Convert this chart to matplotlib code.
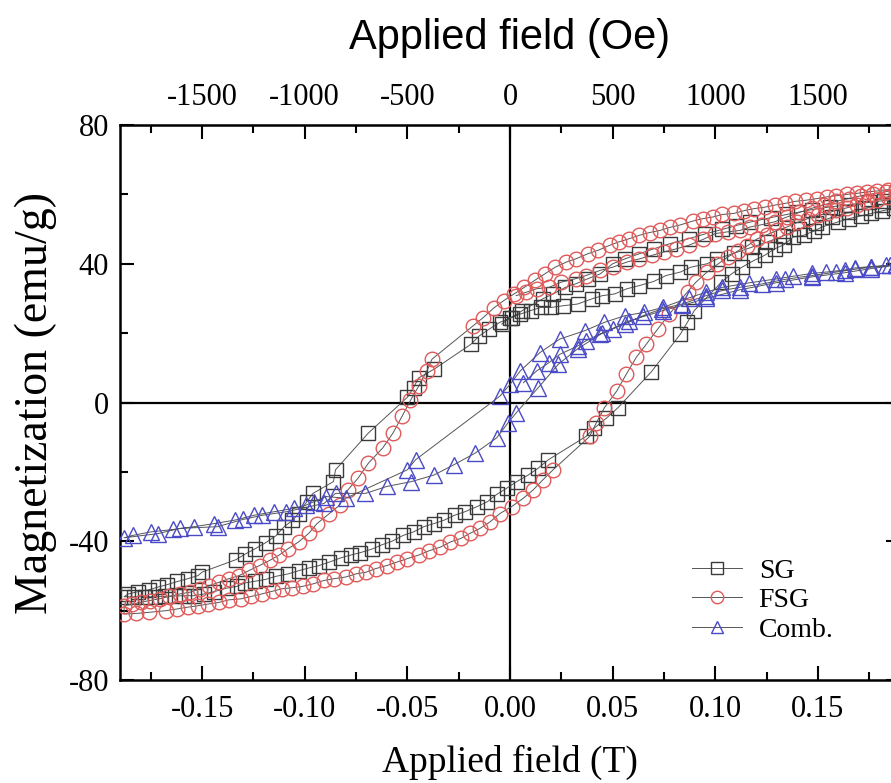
import matplotlib
matplotlib.use("Agg")
import matplotlib.pyplot as plt
from matplotlib.ticker import MultipleLocator, FixedLocator
import numpy as np

plt.rcParams["axes.unicode_minus"] = False

# ---------------- data: field H (T) and magnetization M (emu/g) ----------------
# SG: initial curve from remanence, descending branch, ascending branch
sg_init_h = [-0.004, 0.000, 0.005, 0.010, 0.015, 0.020, 0.026, 0.033, 0.040, 0.045, 0.051, 0.057,
             0.063, 0.070, 0.076, 0.083, 0.088, 0.096, 0.101, 0.109, 0.118, 0.125, 0.133, 0.141,
             0.149, 0.157, 0.165, 0.173, 0.181, 0.188]
sg_init_m = [22.6, 24.5, 25.5, 26.5, 27.4, 27.4, 27.9, 28.4, 29.9, 30.8, 31.3, 32.8,
             33.7, 34.9, 36.6, 37.6, 39.0, 40.0, 41.4, 43.0, 44.8, 46.2, 48.0, 50.0,
             51.8, 53.4, 54.8, 56.0, 57.0, 57.8]
sg_desc_h = [0.188, 0.182, 0.175, 0.165, 0.156, 0.147, 0.140, 0.135, 0.127, 0.117, 0.110, 0.1035,
             0.095, 0.087, 0.078, 0.070, 0.063, 0.056, 0.050, 0.044, 0.038, 0.032, 0.027, 0.021,
             0.016, 0.006, 0.001, -0.005, -0.010, -0.015, -0.019, -0.037, -0.0445, -0.047, -0.050,
             -0.069, -0.085, -0.086, -0.096, -0.099, -0.103, -0.106, -0.110, -0.114, -0.119, -0.124,
             -0.129, -0.1335, -0.150, -0.152, -0.157, -0.162, -0.167, -0.1715, -0.176, -0.181, -0.186]
sg_desc_m = [58.6, 58.2, 57.7, 57.0, 56.4, 55.6, 54.8, 54.2, 53.3, 52.0, 51.0, 49.9,
             48.6, 47.2, 45.8, 44.3, 42.9, 41.4, 40.0, 37.1, 35.7, 34.2, 33.2, 31.3,
             29.9, 26.5, 24.5, 23.1, 21.2, 19.2, 16.8, 9.6, 7.1, 4.3, 1.5,
             -8.8, -19.4, -22.8, -26.2, -28.6, -32.0, -34.0, -35.8, -38.4, -40.4, -42.1,
             -43.7, -45.3, -48.9, -49.9, -50.8, -51.6, -52.5, -53.2, -54.0, -54.5, -55.2]
sg_asc_h = [-0.188, -0.183, -0.178, -0.173, -0.168, -0.163, -0.159, -0.154, -0.149, -0.144, -0.138,
            -0.133, -0.129, -0.124, -0.119, -0.114, -0.108, -0.103, -0.098, -0.093, -0.088, -0.0825,
            -0.0777, -0.073, -0.067, -0.0623, -0.0575, -0.052, -0.047, -0.042, -0.037, -0.032, -0.027,
            -0.022, -0.016, -0.011, -0.0065, -0.0016, 0.0033, 0.0089, 0.0138, 0.0187, 0.037, 0.041,
            0.047, 0.0526, 0.0688, 0.083, 0.0864, 0.0898, 0.103, 0.108, 0.113, 0.119, 0.124, 0.129,
            0.1335, 0.138, 0.143, 0.148, 0.152, 0.160, 0.165, 0.171, 0.176, 0.181, 0.187]
sg_asc_m = [-56.0, -56.0, -56.0, -56.0, -55.9, -55.8, -55.7, -55.7, -55.2, -54.5, -53.5,
            -53.0, -52.0, -51.5, -51.0, -50.1, -49.4, -48.5, -47.7, -47.0, -46.0, -44.8,
            -44.0, -43.3, -42.2, -41.0, -40.0, -38.3, -37.3, -35.8, -34.9, -33.9, -32.5,
            -31.5, -30.0, -28.6, -26.5, -24.7, -22.8, -20.9, -18.9, -16.5, -9.8, -7.4,
            -4.5, -1.5, 8.8, 19.7, 23.1, 26.5, 34.7, 37.1, 39.0, 41.0, 42.4, 44.3,
            45.5, 47.7, 48.2, 49.4, 50.6, 52.1, 53.0, 53.8, 54.5, 55.2, 56.0]

# FSG
fsg_init_h = [0.003, 0.008, 0.013, 0.019, 0.025, 0.032, 0.037, 0.044, 0.050, 0.057, 0.063, 0.069,
              0.075, 0.081, 0.087, 0.094, 0.100, 0.106, 0.112, 0.117, 0.123, 0.129, 0.135, 0.141,
              0.147, 0.153, 0.159, 0.165, 0.171, 0.177, 0.183, 0.188]
fsg_init_m = [30.8, 31.8, 32.8, 33.2, 34.7, 35.7, 36.6, 38.1, 39.0, 40.5, 41.4, 42.4,
              43.4, 44.3, 45.3, 47.0, 48.7, 49.2, 49.6, 50.6, 51.3, 52.1, 53.5, 54.8,
              56.0, 57.0, 58.0, 58.8, 59.6, 60.2, 60.8, 61.3]
fsg_desc_h = [0.188, 0.184, 0.179, 0.174, 0.169, 0.164, 0.159, 0.1545, 0.1497, 0.144, 0.139, 0.134,
              0.129, 0.124, 0.119, 0.114, 0.109, 0.1035, 0.099, 0.094, 0.089, 0.083, 0.078, 0.073,
              0.068, 0.063, 0.058, 0.053, 0.0485, 0.043, 0.038, 0.032, 0.0275, 0.022, 0.017, 0.012,
              0.007, 0.002, -0.003, -0.008, -0.013, -0.018, -0.038, -0.0405, -0.0445, -0.0485,
              -0.0526, -0.057, -0.062, -0.069, -0.074, -0.079, -0.083, -0.088, -0.094, -0.098,
              -0.103, -0.108, -0.1125, -0.117, -0.122, -0.127, -0.132, -0.137, -0.1416, -0.1465,
              -0.151, -0.156, -0.161, -0.166, -0.1707, -0.1756, -0.180, -0.184, -0.188]
fsg_desc_m = [61.6, 61.4, 61.0, 60.7, 60.3, 60.0, 59.6, 59.3, 58.8, 58.3, 58.0, 57.4,
              56.9, 56.3, 55.9, 55.3, 54.5, 54.2, 53.5, 53.0, 52.3, 51.2, 50.5, 49.6,
              49.0, 48.2, 47.2, 46.3, 45.3, 43.9, 42.9, 41.4, 40.5, 39.0, 37.1, 35.2,
              33.2, 31.3, 29.4, 27.2, 24.5, 22.1, 12.5, 9.1, 4.7, 0.6,
              -4.0, -8.8, -13.1, -17.5, -21.8, -25.2, -29.6, -32.0, -34.9, -37.7,
              -40.2, -42.1, -44.0, -45.5, -47.0, -48.4, -49.9, -50.8, -51.8, -52.8,
              -53.7, -54.7, -55.2, -55.9, -56.6, -57.1, -57.6, -58.1, -58.6]
fsg_asc_h = [-0.188, -0.182, -0.176, -0.1675, -0.162, -0.157, -0.152, -0.147, -0.1416, -0.137, -0.131,
             -0.126, -0.121, -0.1157, -0.111, -0.106, -0.101, -0.096, -0.0906, -0.0858, -0.080, -0.075,
             -0.070, -0.0655, -0.060, -0.055, -0.050, -0.0445, -0.0397, -0.034, -0.029, -0.024,
             -0.0194, -0.0146, -0.0097, -0.0049, 0.0008, 0.0065, 0.0113, 0.016, 0.021, 0.0388,
             0.042, 0.046, 0.052, 0.0566, 0.0615, 0.0664, 0.072, 0.0777, 0.0866, 0.0906, 0.096,
             0.101, 0.106, 0.111, 0.1157, 0.1205, 0.125, 0.130, 0.135, 0.140, 0.145, 0.150,
             0.1545, 0.159, 0.164, 0.169, 0.174, 0.179, 0.184, 0.188]
fsg_asc_m = [-61.0, -60.8, -60.5, -60.0, -59.5, -59.0, -58.6, -58.1, -57.6, -56.9, -56.6,
             -55.9, -55.2, -54.4, -53.7, -53.4, -53.0, -52.3, -51.3, -50.8, -50.3, -49.4,
             -48.9, -47.9, -47.0, -46.0, -45.0, -44.0, -42.8, -41.7, -40.2, -39.2,
             -37.7, -36.3, -34.4, -32.0, -30.0, -27.6, -25.2, -22.3, -19.4, -9.8,
             -5.9, -1.5, 3.3, 8.1, 13.0, 16.8, 21.2, 25.5, 32.0, 34.7, 37.6,
             39.8, 41.9, 43.7, 45.2, 47.2, 48.3, 49.6, 50.6, 51.9, 53.0, 54.0,
             54.5, 55.5, 56.1, 56.9, 57.7, 58.3, 59.3, 60.0]

# Comb.
cb_init_h = [0.0065, 0.013, 0.019, 0.0243, 0.033, 0.037, 0.0437, 0.050, 0.0558, 0.0647, 0.074,
             0.084, 0.0955, 0.1035, 0.112, 0.123, 0.134, 0.147, 0.159, 0.168, 0.176, 0.185]
cb_init_m = [5.7, 9.1, 11.5, 13.9, 16.3, 17.8, 19.7, 21.2, 22.6, 25.0, 27.0,
             28.4, 30.8, 32.3, 33.2, 34.2, 35.5, 36.6, 37.6, 38.4, 39.0, 39.5]
cb_desc_h = [0.188, 0.183, 0.176, 0.168, 0.163, 0.154, 0.147, 0.138, 0.1295, 0.1165, 0.1035,
             0.0955, 0.0874, 0.0744, 0.0655, 0.0558, 0.046, 0.0364, 0.0243, 0.0146, 0.005, 0.0,
             -0.005, -0.046, -0.050, -0.080, -0.0898, -0.0955, -0.0995, -0.105, -0.115, -0.1246,
             -0.134, -0.144, -0.154, -0.164, -0.175, -0.1837]
cb_desc_m = [39.8, 39.5, 39.2, 38.8, 38.2, 37.6, 37.2, 36.4, 35.6, 34.5, 33.2,
             31.8, 30.2, 27.4, 26.0, 25.0, 23.1, 20.7, 18.3, 14.4, 9.1, 5.2,
             1.8, -16.5, -19.4, -27.6, -27.1, -28.6, -29.6, -30.5, -31.5, -32.5,
             -33.9, -34.9, -35.8, -36.6, -37.3, -38.3]
cb_asc_h = [-0.188, -0.1715, -0.161, -0.1425, -0.130, -0.1206, -0.109, -0.0906, -0.085, -0.0704,
            -0.060, -0.048, -0.037, -0.0275, -0.017, -0.0065, -0.001, 0.003, 0.0138, 0.0235, 0.033,
            0.045, 0.058, 0.0744, 0.084, 0.0955, 0.112, 0.1295, 0.147, 0.163, 0.176, 0.188]
cb_asc_m = [-39.0, -37.8, -36.3, -35.8, -33.7, -32.5, -31.5, -29.1, -26.2, -26.2,
            -24.2, -22.8, -20.9, -18.0, -14.6, -10.2, -5.9, -3.0, 4.3, 11.0, 15.5,
            20.0, 23.5, 26.5, 28.0, 30.0, 32.5, 34.5, 36.2, 37.4, 38.6, 39.6]

series = [
    ("SG", [sg_init_h, sg_desc_h, sg_asc_h], [sg_init_m, sg_desc_m, sg_asc_m], "s", "#3a3a3a", 10),
    ("FSG", [fsg_init_h, fsg_desc_h, fsg_asc_h], [fsg_init_m, fsg_desc_m, fsg_asc_m], "o", "#e05a5a", 10.5),
    ("Comb.", [cb_init_h, cb_desc_h, cb_asc_h], [cb_init_m, cb_desc_m, cb_asc_m], "^", "#4a4ac8", 11),
]

serif = ["Liberation Serif", "DejaVu Serif"]
sans = ["Liberation Sans", "DejaVu Sans"]

fig = plt.figure(figsize=(8.91, 7.83), dpi=100)
ax = fig.add_axes([120 / 891, 103 / 783, 780 / 891, 555 / 783])

for label, hs, ms, mk, col, size in series:
    h = np.concatenate([np.asarray(x, float) for x in hs])
    m = np.concatenate([np.asarray(x, float) for x in ms])
    ax.plot(h, m, color="#555555", lw=0.7, marker=mk, ms=size, mfc="none",
            mec=col, mew=1.0, label=label, zorder=3)

ax.axhline(0, color="black", lw=1.6, zorder=2)
ax.axvline(0, color="black", lw=1.6, zorder=2)

ax.set_xlim(-0.19, 0.19)
ax.set_ylim(-80, 80)
ax.xaxis.set_major_locator(FixedLocator([-0.15, -0.10, -0.05, 0.0, 0.05, 0.10, 0.15]))
ax.xaxis.set_minor_locator(MultipleLocator(0.025))
ax.yaxis.set_major_locator(MultipleLocator(40))
ax.yaxis.set_minor_locator(MultipleLocator(20))
ax.set_xticklabels(["-0.15", "-0.10", "-0.05", "0.00", "0.05", "0.10", "0.15"])
ax.tick_params(which="both", direction="in", right=True, width=1.5)
ax.tick_params(which="major", length=10, labelsize=22)
ax.tick_params(axis="x", which="major", pad=11)
ax.tick_params(axis="y", which="major", pad=8)
ax.tick_params(which="minor", length=6)
for lab in ax.get_xticklabels() + ax.get_yticklabels():
    lab.set_family(serif)
for sp in ax.spines.values():
    sp.set_linewidth(1.8)

ax.set_xlabel("Applied field (T)", family=serif, fontsize=27, labelpad=15)
ax.set_ylabel("Magnetization (emu/g)", family=serif, fontsize=33, labelpad=8)

top = ax.secondary_xaxis("top", functions=(lambda t: t * 1e4, lambda oe: oe / 1e4))
top.xaxis.set_major_locator(FixedLocator([-1500, -1000, -500, 0, 500, 1000, 1500]))
top.xaxis.set_minor_locator(MultipleLocator(250))
top.tick_params(which="both", direction="in", width=1.5)
top.tick_params(which="major", length=10, labelsize=22, pad=9)
top.tick_params(which="minor", length=6)
for lab in top.get_xticklabels():
    lab.set_family(serif)
top.set_xlabel("Applied field (Oe)", family=sans, fontsize=30, labelpad=25)

leg = ax.legend(loc="lower right", bbox_to_anchor=(0.929, 0.047), frameon=False,
                prop={"family": serif, "size": 20}, handlelength=1.8, handletextpad=0.6,
                labelspacing=0.15, borderaxespad=0, markerscale=0.85)

fig.savefig("out.png", dpi=100)
